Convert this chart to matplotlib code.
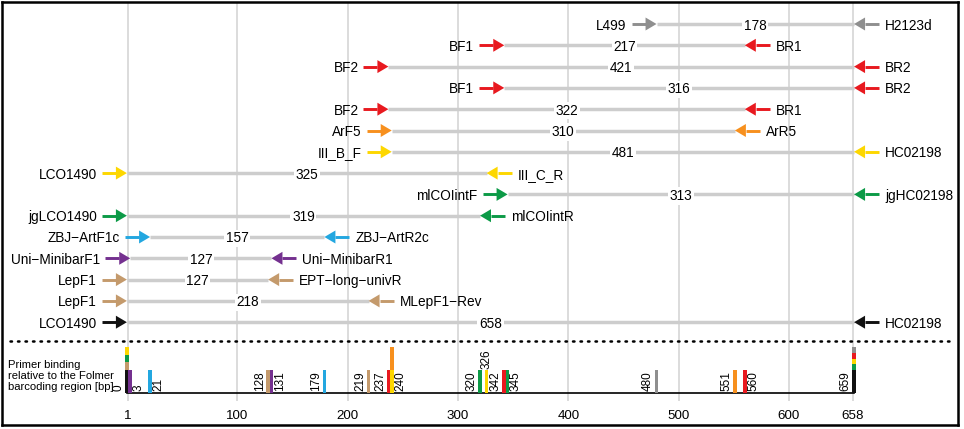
import numpy as np
import matplotlib.pyplot as plt
from matplotlib.patches import Polygon
from matplotlib.transforms import blended_transform_factory

plt.rcParams['font.family'] = ['Liberation Sans', 'DejaVu Sans']

# primer pairs, top row first
fwd_names = ['L499', 'BF1', 'BF2', 'BF1', 'BF2', 'ArF5', 'III_B_F', 'LCO1490',
             'mlCOIintF', 'jgLCO1490', 'ZBJ\u2212ArtF1c', 'Uni\u2212MinibarF1',
             'LepF1', 'LepF1', 'LCO1490']
fwd_pos = [480, 342, 237, 342, 237, 240, 240, 0, 345, 0, 21, 3, 0, 0, 0]
rev_names = ['H2123d', 'BR1', 'BR2', 'BR2', 'BR1', 'ArR5', 'HC02198', 'III_C_R',
             'jgHC02198', 'mlCOIintR', 'ZBJ\u2212ArtR2c', 'Uni\u2212MinibarR1',
             'EPT\u2212long\u2212univR', 'MLepF1\u2212Rev', 'HC02198']
rev_pos = [659, 560, 659, 659, 560, 551, 659, 326, 659, 320, 179, 131, 128, 219, 659]
amp_len = ['178', '217', '421', '316', '322', '310', '481', '325', '313', '319',
           '157', '127', '127', '218', '658']
row_colors = ['grey', 'red', 'red', 'red', 'red', 'orange', 'yellow', 'yellow',
              'green', 'green', 'blue', 'purple', 'tan', 'tan', 'black']

tick_vals = [1, 100, 200, 300, 400, 500, 600, 658]
right_labelled = [3, 21, 131, 240, 345, 560]
top_labelled = [326]

palette = {'grey': '#8f8f8f', 'red': '#e8191f', 'orange': '#f7901e',
           'yellow': '#fdd700', 'green': '#0c9a47', 'blue': '#23a7e0',
           'purple': '#74308f', 'tan': '#c49a6c', 'black': '#111111'}

W, H = 964, 429
fig = plt.figure(figsize=(W / 100, H / 100), dpi=100)
# axes frame in pixels: x 2..958, y 2..425 (from top)
ax = fig.add_axes([2 / W, (H - 425) / H, 956 / W, 423 / H])
x0, x1 = -113.2, 753.2
PX = 956 / (x1 - x0)  # pixels per bp
ax.set_xlim(x0, x1)
ax.set_ylim(425, 2)  # y in pixels, top down
ax.set_xticks([])
ax.set_yticks([])
for s in ax.spines.values():
    s.set_linewidth(1.8)
    s.set_color('black')

row_y = 24 + 21.3 * np.arange(len(fwd_pos))
base_y = 393
bar_h = 23
fs = 9.8

# grid
ax.vlines(tick_vals, 2, 401, color='#d6d6d6', lw=1.2, zorder=0)
for t in tick_vals:
    ax.text(t, 416, str(t), ha='center', va='center', fontsize=9.6)


def arrow(tip, y, d, col):
    L = 25 / PX
    head = 11 / PX
    hw = 6.5
    tail = tip - d * L
    neck = tip - d * head
    ax.plot([tail, neck], [y, y], color=col, lw=2.1, solid_capstyle='butt', zorder=3)
    ax.add_patch(Polygon([[tip, y], [neck, y - hw], [neck, y + hw]], closed=True,
                         facecolor=col, edgecolor='none', zorder=3))
    return tail


for i in range(len(fwd_pos)):
    y = row_y[i]
    c = palette[row_colors[i]]
    f, r = fwd_pos[i], rev_pos[i]
    ax.plot([f, r], [y, y], color='#cdcdcd', lw=2.5, solid_capstyle='butt', zorder=1)
    t = arrow(f, y, 1, c)
    ax.text(t - 5 / PX, y, fwd_names[i], ha='right', va='center_baseline', fontsize=fs)
    t = arrow(r, y, -1, c)
    ax.text(t + 6 / PX, y, rev_names[i], ha='left', va='center_baseline', fontsize=fs)
    ax.text((f + r) / 2, y, amp_len[i], ha='center', va='center_baseline', fontsize=fs,
            zorder=2, bbox=dict(facecolor='white', edgecolor='none', pad=1.2))

# separator
ax.plot([x0 + 8 / PX, x1 - 8 / PX], [341, 341], color='black', lw=1.8,
        dashes=(0.6, 2.4), dash_capstyle='round')

# binding positions, stacked from the bottom row upwards
stacks = {}
for i in reversed(range(len(fwd_pos))):
    for p in (fwd_pos[i], rev_pos[i]):
        stacks.setdefault(p, [])
        if row_colors[i] not in stacks[p]:
            stacks[p].append(row_colors[i])

ax.plot([0, 659], [base_y, base_y], color='black', lw=1.2, zorder=2)
bw = 3.6 / PX
for p, cols in stacks.items():
    ax.bar(p, -bar_h, bottom=base_y, width=bw, color=palette[cols[0]], zorder=3)
    extra = cols[1:]
    for k, c in enumerate(extra):
        h = bar_h / len(extra)
        ax.bar(p, -h, bottom=base_y - bar_h - k * h, width=bw, color=palette[c], zorder=3)
    if p in top_labelled:
        ax.text(p, base_y - bar_h - 1, str(p), rotation=90, ha='center', va='bottom',
                fontsize=8.5)
    elif p in right_labelled:
        ax.text(p + 2.4 / PX, base_y - 2, str(p), rotation=90, ha='left', va='bottom',
                fontsize=8.5)
    else:
        ax.text(p - 2.4 / PX, base_y - 2, str(p), rotation=90, ha='right', va='bottom',
                fontsize=8.5)

tr = blended_transform_factory(ax.transAxes, ax.transData)
ax.text(6 / 956, 376, 'Primer binding\nrelative to the Folmer\nbarcoding region [bp]',
        transform=tr, ha='left', va='center', fontsize=8.1, linespacing=1.15)

fig.savefig('out.png', dpi=100)
